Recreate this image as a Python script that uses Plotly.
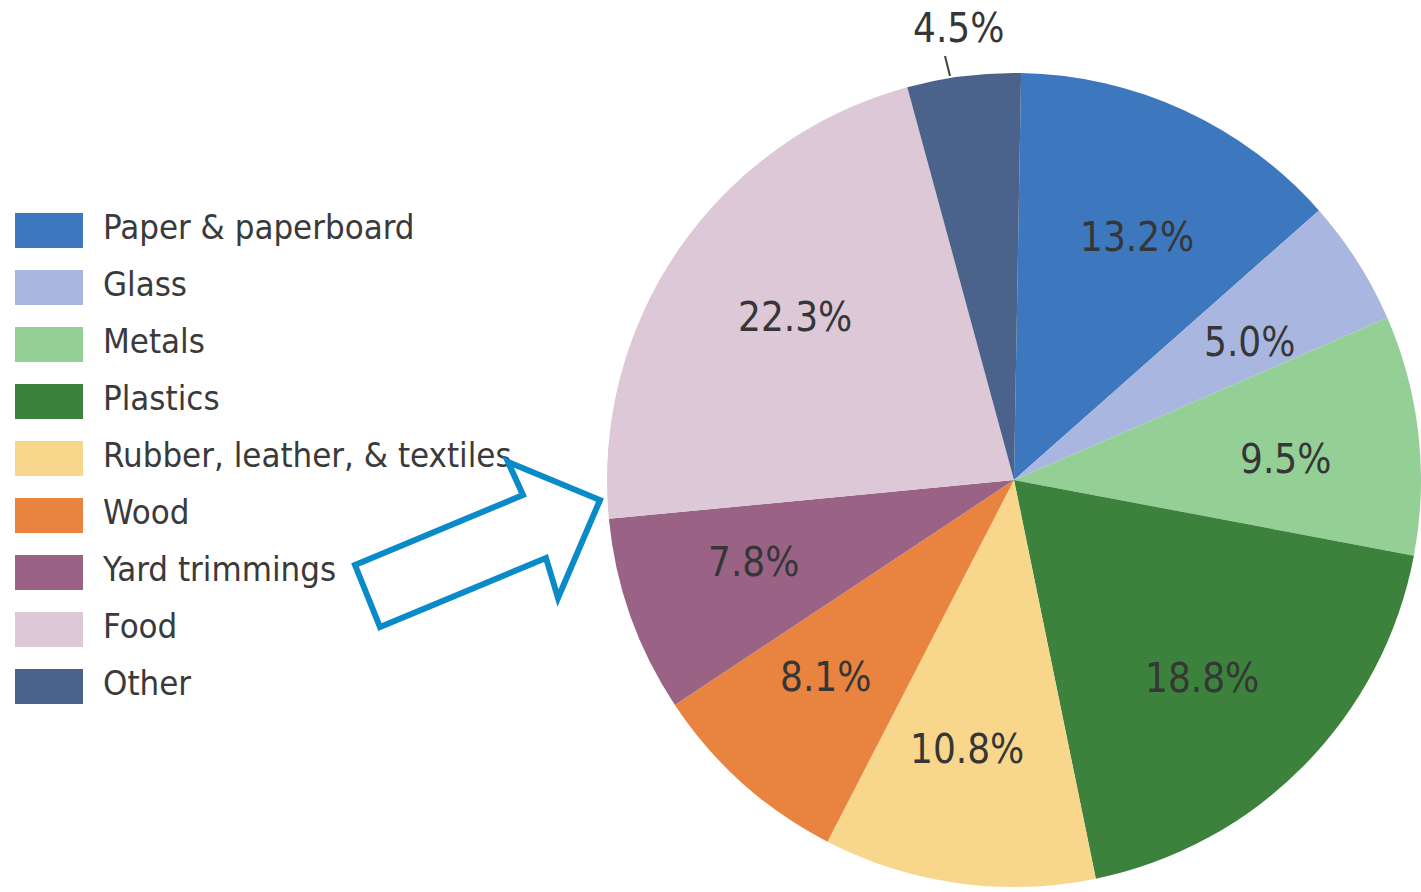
import math

import plotly.graph_objects as go

# waste composition, clockwise from 12 o'clock
categories = ["Paper & paperboard", "Glass", "Metals", "Plastics",
              "Rubber, leather, & textiles", "Wood", "Yard trimmings", "Food", "Other"]
shares = [13.2, 5.0, 9.5, 18.8, 10.8, 8.1, 7.8, 22.3, 4.5]
colors = ["#3d78bf", "#a9b6df", "#94cf96", "#3c823c", "#f8d68b",
          "#e8843f", "#9a6386", "#dcc8d6", "#4b628a"]

W, H = 1421, 892
FONT = "DejaVu Sans Condensed, Noto Sans, sans-serif"
TEXT = "#363636"

# pie geometry in px
CX, CY, R = 1014, 480, 407
ROTATION = 1.0
LABEL_R = 0.67 * R
LABEL_SHIFT = 2.0  # degrees, labels sit a touch clockwise of slice middle

# legend rows in px
ROW0, ROW_STEP = 230, 57
SW_X0, SW_W, SW_H = 15, 68, 35
LABEL_X = 103

fig = go.Figure()

fig.add_trace(go.Pie(
    values=shares,
    labels=categories,
    sort=False,
    direction="clockwise",
    rotation=ROTATION,
    marker=dict(colors=colors, line=dict(width=0)),
    textinfo="none",
    showlegend=False,
    domain=dict(x=[(CX - R) / W, 1.0],
                y=[1 - (CY + R) / H, 1 - (CY - R) / H]),
    hoverinfo="label+percent",
))

# custom legend: swatches as horizontal bars, labels as text
rows = list(range(len(categories)))
row_y = [ROW0 + i * ROW_STEP for i in rows]
fig.add_trace(go.Bar(
    x=[SW_W] * len(rows), y=row_y, base=SW_X0, orientation="h",
    width=SW_H, marker=dict(color=colors, line=dict(width=0)),
    xaxis="x2", yaxis="y2", showlegend=False, hoverinfo="skip",
))
fig.add_trace(go.Scatter(
    x=[LABEL_X] * len(rows), y=row_y, mode="text", text=categories,
    textposition="middle right",
    textfont=dict(family=FONT, size=34.5, color="#3a3a3a"),
    xaxis="x2", yaxis="y2", showlegend=False, hoverinfo="skip",
))

# percentage labels at each slice's middle angle
total = sum(shares)
annotations = []
cum = 0.0
for i, v in enumerate(shares):
    mid = (cum + v / 2) / total * 360 + ROTATION + LABEL_SHIFT
    cum += v
    txt = f"{v:.1f}%"
    if i == len(shares) - 1:
        # small slice: label sits above the pie
        annotations.append(dict(x=CX - 56, y=28, xref="x2", yref="y2", text=txt,
                                showarrow=False, font=dict(family=FONT, size=40, color=TEXT)))
        continue
    a = math.radians(mid)
    annotations.append(dict(
        x=CX + LABEL_R * math.sin(a), y=CY - LABEL_R * math.cos(a),
        xref="x2", yref="y2", text=txt, showarrow=False,
        font=dict(family=FONT, size=40, color=TEXT),
    ))

# callout arrow pointing at the yard trimmings slice
arrow = "M 355 565 L 523 495 L 508 462 L 600 500 L 558 598 L 546 558 L 380 627 Z"
shapes = [
    dict(type="path", path=arrow, xref="x2", yref="y2",
         line=dict(color="#0a8bc9", width=6), fillcolor="rgba(0,0,0,0)"),
    # leader line for the 4.5% label
    dict(type="line", x0=945, y0=56, x1=950, y1=76, xref="x2", yref="y2",
         line=dict(color="#444444", width=2)),
]

fig.update_layout(
    width=W, height=H,
    margin=dict(l=0, r=0, t=0, b=0),
    paper_bgcolor="white", plot_bgcolor="rgba(0,0,0,0)",
    xaxis2=dict(domain=[0, 1], range=[0, W], visible=False, fixedrange=True),
    yaxis2=dict(domain=[0, 1], range=[H, 0], visible=False, fixedrange=True),
    shapes=shapes,
    annotations=annotations,
    bargap=0,
)

fig.write_html("out.html", config={"displayModeBar": False},
               post_script="document.body.style.margin='0';")
